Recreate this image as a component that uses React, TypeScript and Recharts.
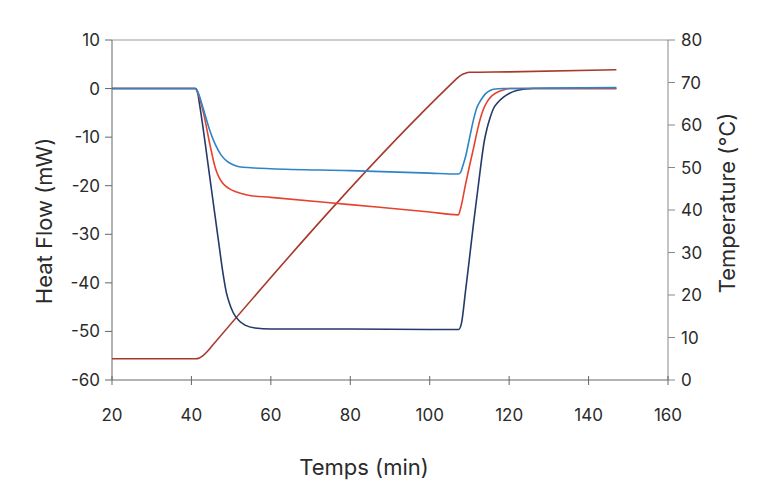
import { ComposedChart, Line, XAxis, YAxis, ReferenceLine } from "recharts";

// [time (min), heat flow (mW)]
const runBlue = [
  [20, 0], [41, 0], [41.5, -0.5], [43, -4.2], [44.5, -8.3], [46, -11.5], [47.5, -13.7],
  [49, -15], [50.5, -15.7], [52, -16.1], [55, -16.3], [60, -16.5], [80, -16.9], [100, -17.4],
  [107.2, -17.6], [107.8, -17.2], [108.3, -16], [109, -14.1], [110, -10.3], [111, -6.5],
  [111.8, -4.1], [112.5, -2.9], [113.1, -2.1], [114, -1.1], [115.2, -0.4], [116.5, -0.1],
  [118.5, 0], [130, 0.1], [147, 0.2],
];

const runRed = [
  [20, 0], [41, 0], [41.5, -0.7], [43, -4.9], [44.7, -11.7], [46, -16.3], [47, -18.4],
  [48, -19.6], [49.5, -20.6], [51, -21.2], [54, -21.9], [60, -22.4], [80, -23.9], [100, -25.4],
  [107.2, -26], [107.8, -24.6], [109, -19.8], [110, -16], [111, -12.4], [112, -8.6],
  [112.7, -6.3], [113.5, -4.3], [114.4, -2.8], [115.5, -1.6], [116.9, -0.8], [118.5, -0.3],
  [120.2, 0], [147, 0],
];

const runNavy = [
  [20, 0], [41, 0], [41.6, -1], [42, -3], [43, -8.5], [44, -14.5], [45, -20.5], [46, -26.5],
  [47, -32.5], [48, -38.3], [48.8, -42], [49.7, -44.5], [50.5, -46.1], [52, -47.8],
  [53.5, -48.7], [56, -49.3], [60, -49.5], [80, -49.5], [100, -49.6], [107.3, -49.6],
  [108, -48.3], [109, -41.8], [110, -35], [111, -28], [112, -21.5], [113, -15],
  [113.7, -11], [114.4, -8.3], [115.2, -6], [116, -4.2], [117.2, -2.8], [118.5, -1.8],
  [120, -1], [121.9, -0.4], [124, -0.1], [126, 0], [147, 0],
];

// [time (min), temperature (°C)]
const temperature = [
  [20, 5], [41, 5], [42, 5.2], [43, 5.8], [44, 6.7], [45, 7.8], [106, 70.2], [107, 71.1],
  [108, 71.8], [109, 72.2], [110, 72.4], [120, 72.5], [147, 73],
];

const timeTicks = [20, 40, 60, 80, 100, 120, 140, 160];
const flowTicks = [-60, -50, -40, -30, -20, -10, 0, 10];
const tempTicks = [0, 10, 20, 30, 40, 50, 60, 70, 80];

const toPoints = (arr: number[][]) => arr.map(([t, v]) => ({ t, v }));

const FONT = "Inter, 'DejaVu Sans', sans-serif";
const TEXT = "#2b2b2b";

const XTick = ({ x, y, payload }: any) => (
  <g>
    <line x1={x} x2={x} y1={y - 4} y2={y + 5} stroke="#666" />
    <text x={x} y={y + 41} textAnchor="middle" fontSize={17} fontFamily={FONT} fill={TEXT}>
      {payload.value}
    </text>
  </g>
);

const title = (text: string, dx: number, dy: number, angle: number) => (props: any) => {
  const vb = props.viewBox;
  const cx = vb.x + dx;
  const cy = vb.y + dy;
  return (
    <text
      x={cx}
      y={cy}
      transform={`rotate(${angle} ${cx} ${cy})`}
      textAnchor="middle"
      dominantBaseline="central"
      fontSize={22}
      fontFamily={FONT}
      fill={TEXT}
    >
      {text}
    </text>
  );
};

export default function App() {
  return (
    <div style={{ position: "absolute", left: 0, top: 0, background: "#fff" }}>
      <ComposedChart width={768} height={481} margin={{ top: 40, right: 0, bottom: 0, left: 0 }}>
        <XAxis
          dataKey="t"
          type="number"
          domain={[20, 160]}
          ticks={timeTicks}
          height={101}
          stroke="#666"
          tickSize={0}
          tickMargin={0}
          tickLine={false}
          tick={<XTick />}
          allowDataOverflow
          label={title("Temps (min)", 252, 87, 0)}
        />
        <YAxis
          yAxisId="left"
          domain={[-60, 10]}
          ticks={flowTicks}
          width={112}
          stroke="#666"
          tickSize={7}
          tickMargin={5}
          tick={{ fontSize: 17, fontFamily: FONT, fill: TEXT }}
          allowDataOverflow
          label={title("Heat Flow (mW)", 44, 181, -90)}
        />
        <YAxis
          yAxisId="right"
          orientation="right"
          domain={[0, 80]}
          ticks={tempTicks}
          width={100}
          stroke="#888"
          tickSize={7}
          tickMargin={6}
          tick={{ fontSize: 17, fontFamily: FONT, fill: TEXT }}
          allowDataOverflow
          label={title("Temperature (°C)", 59, 163, -90)}
        />
        <ReferenceLine yAxisId="left" y={10} stroke="#999" />
        <Line
          yAxisId="right"
          data={toPoints(temperature)}
          dataKey="v"
          type="monotone"
          stroke="#a8382c"
          strokeWidth={1.6}
          dot={false}
          isAnimationActive={false}
        />
        <Line
          yAxisId="left"
          data={toPoints(runNavy)}
          dataKey="v"
          type="monotone"
          stroke="#243a6a"
          strokeWidth={1.6}
          dot={false}
          isAnimationActive={false}
        />
        <Line
          yAxisId="left"
          data={toPoints(runRed)}
          dataKey="v"
          type="monotone"
          stroke="#e5432e"
          strokeWidth={1.6}
          dot={false}
          isAnimationActive={false}
        />
        <Line
          yAxisId="left"
          data={toPoints(runBlue)}
          dataKey="v"
          type="monotone"
          stroke="#2f84c6"
          strokeWidth={1.6}
          dot={false}
          isAnimationActive={false}
        />
      </ComposedChart>
    </div>
  );
}
